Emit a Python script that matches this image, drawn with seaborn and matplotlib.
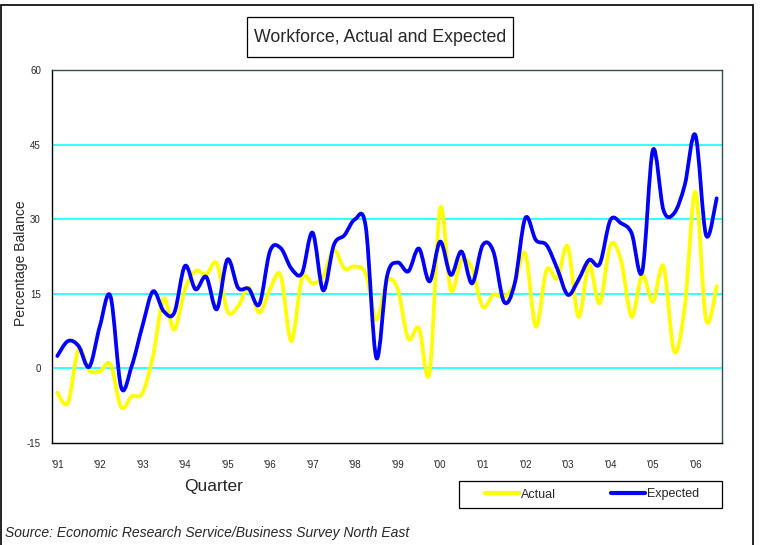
import numpy as np
import pandas as pd
import seaborn as sns
import matplotlib.pyplot as plt
from matplotlib.lines import Line2D
from matplotlib.patches import Rectangle, PathPatch
from matplotlib.path import Path

# quarterly survey balances, 1991 Q1 - 2006 Q3
quarters = pd.period_range("1991Q1", "2006Q3", freq="Q")
actual = [-4.9, -6.9, 3.8, -0.4, -0.6, 0.8, -7.8, -5.6, -5.0, 2.5,
          14.0, 7.8, 15.9, 19.6, 18.9, 21.1, 11.5, 12.5, 16.2, 11.2,
          15.9, 18.7, 5.5, 18.1, 17.1, 18.5, 23.8, 20.1, 20.5, 19.0,
          9.8, 17.5, 16.0, 6.0, 8.1, -0.9, 32.2, 15.8, 21.8, 20.1,
          12.4, 14.8, 14.4, 17.0, 23.1, 8.4, 19.8, 18.1, 24.5, 10.4,
          20.8, 13.1, 24.8, 21.8, 10.4, 18.8, 13.4, 20.5, 3.4, 12.4,
          35.5, 9.8, 16.5]
expected = [2.5, 5.5, 4.5, 0.3, 8.5, 14.5, -3.8, 0.5, 8.5, 15.5,
            11.5, 11.2, 20.6, 15.9, 18.4, 11.9, 21.9, 16.2, 16.0, 12.9,
            23.6, 24.2, 20.1, 19.1, 27.3, 15.7, 24.8, 26.8, 30.0, 28.5,
            2.1, 18.5, 21.3, 19.5, 24.1, 17.5, 25.5, 18.8, 23.5, 17.1,
            24.8, 23.5, 13.4, 17.0, 30.2, 25.8, 24.8, 20.1, 14.8, 17.8,
            21.8, 21.0, 29.8, 29.2, 27.2, 19.5, 43.9, 31.8, 31.2, 36.9,
            46.9, 26.8, 34.2]
year_labels = ["'%02d" % (q.year % 100) for q in quarters if q.quarter == 1]

df = pd.DataFrame({"quarter": np.arange(len(quarters)),
                   "Actual": actual, "Expected": expected})
df = df.melt(id_vars="quarter", var_name="series", value_name="balance")


def smooth_line(ax, line):
    """Redraw a seaborn line as an Excel-style smoothed (Bezier) curve."""
    xy = line.get_xydata()
    p = np.vstack([xy[:1], xy, xy[-1:]])
    verts = [xy[0]]
    for i in range(1, len(p) - 2):
        verts += [p[i] + (p[i + 1] - p[i - 1]) / 6,
                  p[i + 1] - (p[i + 2] - p[i]) / 6,
                  p[i + 1]]
    codes = [Path.MOVETO] + [Path.CURVE4] * (len(verts) - 1)
    ax.add_patch(PathPatch(Path(verts, codes), fill=False, ec=line.get_color(),
                           lw=line.get_linewidth(), capstyle="round",
                           joinstyle="round", zorder=line.get_zorder()))
    line.remove()


sns.set_style("white")
plt.rcParams["font.family"] = ["Liberation Sans", "DejaVu Sans"]
plt.rcParams["axes.unicode_minus"] = False

fig = plt.figure(figsize=(7.6, 5.45), dpi=100)
ax = fig.add_axes([52 / 760, 1 - 443 / 545, 670 / 760, 373 / 545])

for y in [0, 15, 30, 45]:
    ax.axhline(y, color="#00FFFF", lw=1.1, zorder=0)

colors = {"Actual": "#FFFF00", "Expected": "#0000FF"}
sns.lineplot(df, x="quarter", y="balance", hue="series", palette=colors,
             linewidth=2.7, legend=False, ax=ax)
for line in [l for l in ax.lines if l.get_color() in colors.values()]:
    smooth_line(ax, line)

ax.set_xlim(-0.5, len(quarters) - 0.5)
ax.set_ylim(-15, 60)
ax.set_yticks([-15, 0, 15, 30, 45, 60])
ax.set_xticks(np.arange(-0.5, len(quarters), 1))
ax.set_xticklabels([])
ax.set_xticks(np.arange(0, len(quarters), 4), minor=True)
ax.set_xticklabels(year_labels, minor=True, fontsize=7)
ax.tick_params(axis="x", which="major", direction="out", length=4, width=0.8, color="black")
ax.tick_params(axis="x", which="minor", length=0, pad=12)
ax.tick_params(axis="y", direction="out", length=4, width=0.8, color="black",
               pad=4, labelsize=7)
ax.set_xlabel("")
ax.set_ylabel("")

for side in ["left", "bottom"]:
    ax.spines[side].set_color("black")
    ax.spines[side].set_linewidth(1)
for side in ["top", "right"]:
    ax.spines[side].set_color("#2F4F4F")
    ax.spines[side].set_linewidth(1)

# title box
fig.text(380 / 760, 1 - 37 / 545, "Workforce, Actual and Expected",
         ha="center", va="center", fontsize=12.8)
fig.patches.append(Rectangle((247 / 760, 1 - 57 / 545), 266 / 760, 40 / 545,
                             transform=fig.transFigure, fill=False, ec="black", lw=0.9))
# outer frame
fig.patches.append(Rectangle((0.5 / 760, -0.01), 752 / 760, 1 - 5 / 545 + 0.01,
                             transform=fig.transFigure, fill=False, ec="black", lw=1.2))

fig.text(21 / 760, 1 - 263 / 545, "Percentage Balance", rotation=90,
         ha="center", va="center", fontsize=10)
fig.text(214 / 760, 1 - 487 / 545, "Quarter", ha="center", va="center", fontsize=12.5)
fig.text(5 / 760, 1 - 533 / 545, "Source: Economic Research Service/Business Survey North East",
         ha="left", va="center", fontsize=10, style="italic")

handles = [Line2D([], [], color=colors["Actual"], lw=3),
           Line2D([], [], color=colors["Expected"], lw=3)]
fig.legend(handles, ["Actual", "Expected"], ncol=2, loc="center",
           bbox_to_anchor=(592 / 760, 1 - 494.5 / 545), frameon=False,
           handlelength=2.7, handletextpad=0.15, columnspacing=4.4,
           prop={"size": 9})
fig.patches.append(Rectangle((459 / 760, 1 - 508 / 545), 263 / 760, 27 / 545,
                             transform=fig.transFigure, fill=False, ec="black", lw=0.9))

fig.savefig("out.png", dpi=100)
